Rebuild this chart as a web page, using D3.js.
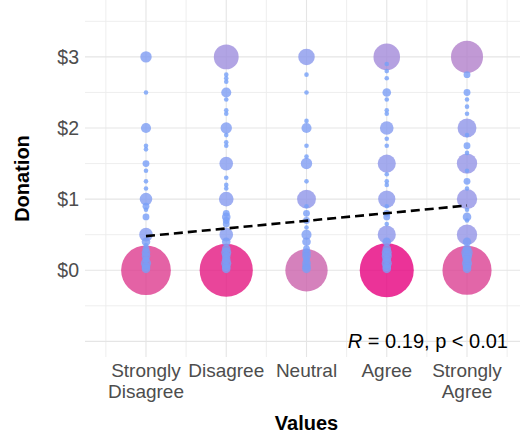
<!DOCTYPE html>
<html>
<head>
<meta charset="utf-8">
<script src="https://cdn.jsdelivr.net/npm/d3@7"></script>
<style>
  body { margin: 0; background: #fff; }
  svg { display: block; font-family: "Liberation Sans", Arial, sans-serif; }
</style>
</head>
<body>
<div id="chart"></div>
<script>
const width = 520,
    height = 436;

// x categories and their tick labels (multi-line)
const categories = ["Strongly Disagree", "Disagree", "Neutral", "Agree", "Strongly Agree"];
const tickLabels = [["Strongly", "Disagree"], ["Disagree"], ["Neutral"], ["Agree"], ["Strongly", "Agree"]];

const yTicks = [0, 1, 2, 3];
const yGridMajor = [-1, 0, 1, 2, 3];
const yGridMinor = [-0.5, 0.5, 1.5, 2.5, 3.5];

// [donation, count] for each answer
const stronglyDisagree = [[3.00, 5], [2.50, 1], [2.00, 4], [1.75, 1], [1.70, 1], [1.50, 2], [1.40, 1], [1.25, 1], [1.15, 1],
    [1.00, 6], [0.90, 2], [0.85, 1], [0.75, 2], [0.50, 7], [0.40, 3], [0.35, 1], [0.30, 2], [0.25, 3], [0.20, 3],
    [0.15, 2], [0.10, 4], [0.05, 3], [0.02, 3], [0, 85]];
const disagree = [[3.00, 22], [2.75, 1], [2.70, 1], [2.65, 1], [2.50, 4], [2.40, 1], [2.25, 1], [2.20, 1], [2.00, 5],
    [1.90, 1], [1.80, 1], [1.75, 1], [1.50, 7], [1.30, 1], [1.20, 1], [1.15, 1], [1.00, 8], [0.80, 2], [0.75, 3],
    [0.70, 2], [0.65, 2], [0.50, 7], [0.40, 3], [0.30, 3], [0.25, 4], [0.20, 3], [0.15, 3], [0.10, 4], [0.05, 3],
    [0.02, 3], [0, 97]];
const neutral = [[3.00, 10], [2.75, 1], [2.50, 1], [2.10, 1], [2.00, 4], [1.75, 1], [1.60, 1], [1.50, 5], [1.25, 1],
    [1.00, 13], [0.90, 1], [0.80, 2], [0.70, 2], [0.60, 1], [0.50, 4], [0.40, 3], [0.30, 2], [0.25, 3], [0.20, 3],
    [0.15, 2], [0.10, 3], [0.05, 3], [0.02, 3], [0, 62]];
const agree = [[3.00, 25], [2.90, 1], [2.80, 1], [2.70, 1], [2.50, 3], [2.40, 1], [2.25, 1], [2.20, 1], [2.00, 7],
    [1.85, 1], [1.75, 1], [1.50, 12], [1.35, 1], [1.25, 1], [1.20, 1], [1.00, 11], [0.90, 1], [0.80, 2], [0.75, 2],
    [0.65, 1], [0.50, 12], [0.40, 3], [0.30, 3], [0.25, 4], [0.20, 4], [0.15, 3], [0.10, 4], [0.05, 3], [0.02, 3],
    [0, 100]];
const stronglyAgree = [[3.00, 36], [2.75, 2], [2.50, 2], [2.40, 1], [2.30, 1], [2.20, 1], [2.00, 13], [1.90, 1],
    [1.75, 2], [1.65, 1], [1.50, 15], [1.40, 1], [1.25, 2], [1.15, 1], [1.00, 15], [0.85, 1], [0.75, 3], [0.70, 1],
    [0.50, 15], [0.40, 3], [0.30, 3], [0.25, 5], [0.20, 4], [0.15, 3], [0.10, 4], [0.05, 3], [0.02, 3], [0, 83]];

// linear fit (donation ~ answer 1..5) and correlation text
const lmIntercept = 0.3725,
    lmSlope = 0.1075;
const corLabel = { r: "0.19", p: "p < 0.01", y: -1 };

const series = [stronglyDisagree, disagree, neutral, agree, stronglyAgree];

const points = [];
series.forEach((s, i) => s.forEach(([v, n]) => points.push({ cat: i + 1, value: v, count: n })));
points.sort((a, b) => b.count - a.count);  // big ones first, small on top

const svg = d3.select("#chart")
    .append("svg")
    .attr("width", width)
    .attr("height", height);

let x = d3.scaleLinear()
    .domain([0.24, 5.76])
    .range([85, 528]);

let y = d3.scaleLinear()
    .domain([-1.22, 3.8])
    .range([357, 0]);

let r = d3.scaleSqrt()
    .domain([1, d3.max(points, d => d.count)])
    .range([2.3, 27]);

let color = d3.scaleLinear()
    .domain([1, d3.max(points, d => d.count)])
    .range(["#76a0f8", "#e6007e"])
    .interpolate(d3.interpolateLab);

// grid
const grid = svg.append("g");
const xMinor = d3.range(0.5, 6, 1);
grid.selectAll(".vminor").data(xMinor).join("line")
    .attr("x1", d => x(d)).attr("x2", d => x(d))
    .attr("y1", y.range()[1]).attr("y2", y.range()[0])
    .attr("stroke", "#ececec").attr("stroke-width", 0.9);
grid.selectAll(".vmajor").data(d3.range(1, 6)).join("line")
    .attr("x1", d => x(d)).attr("x2", d => x(d))
    .attr("y1", y.range()[1]).attr("y2", y.range()[0])
    .attr("stroke", "#e5e5e5").attr("stroke-width", 1.1);
grid.selectAll(".hminor").data(yGridMinor).join("line")
    .attr("x1", x.range()[0]).attr("x2", x.range()[1])
    .attr("y1", d => y(d)).attr("y2", d => y(d))
    .attr("stroke", "#ececec").attr("stroke-width", 0.9);
grid.selectAll(".hmajor").data(yGridMajor).join("line")
    .attr("x1", x.range()[0]).attr("x2", x.range()[1])
    .attr("y1", d => y(d)).attr("y2", d => y(d))
    .attr("stroke", "#e5e5e5").attr("stroke-width", 1.1);

// bubbles
svg.append("g")
    .selectAll("circle")
    .data(points)
    .join("circle")
    .attr("cx", d => x(d.cat))
    .attr("cy", d => y(d.value))
    .attr("r", d => r(d.count))
    .attr("fill", d => color(d.count))
    .attr("fill-opacity", 0.8);

// dashed fit line
svg.append("line")
    .attr("x1", x(1)).attr("y1", y(lmIntercept + lmSlope * 1))
    .attr("x2", x(5)).attr("y2", y(lmIntercept + lmSlope * 5))
    .attr("stroke", "#000")
    .attr("stroke-width", 2.6)
    .attr("stroke-dasharray", "9,5");

// R label
const cor = svg.append("text")
    .attr("x", 508)
    .attr("y", y(corLabel.y) + 7)
    .attr("text-anchor", "end")
    .attr("font-size", 20)
    .attr("fill", "#000");
cor.append("tspan").attr("font-style", "italic").text("R");
cor.append("tspan").text(` = ${corLabel.r}, ${corLabel.p}`);

// y tick labels
svg.append("g")
    .selectAll("text")
    .data(yTicks)
    .join("text")
    .attr("x", 79)
    .attr("y", d => y(d))
    .attr("dy", "0.36em")
    .attr("text-anchor", "end")
    .attr("font-size", 19.5)
    .attr("fill", "#4d4d4d")
    .text(d => "$" + d);

// x tick labels
svg.append("g")
    .selectAll("text")
    .data(tickLabels)
    .join("text")
    .attr("x", (d, i) => x(i + 1))
    .attr("y", 377)
    .attr("text-anchor", "middle")
    .attr("font-size", 19)
    .attr("fill", "#4d4d4d")
    .selectAll("tspan")
    .data(d => d)
    .join("tspan")
    .attr("x", function () { return this.parentNode.getAttribute("x"); })
    .attr("dy", (d, i) => i ? 21 : 0)
    .text(d => d);

// axis titles
svg.append("text")
    .attr("x", (x.range()[0] + x.range()[1]) / 2)
    .attr("y", 430)
    .attr("text-anchor", "middle")
    .attr("font-size", 20)
    .attr("font-weight", "bold")
    .attr("fill", "#000")
    .text("Values");

svg.append("text")
    .attr("transform", `translate(29,${(y.range()[0] + y.range()[1]) / 2}) rotate(-90)`)
    .attr("text-anchor", "middle")
    .attr("font-size", 20)
    .attr("font-weight", "bold")
    .attr("fill", "#000")
    .text("Donation");
</script>
</body>
</html>
